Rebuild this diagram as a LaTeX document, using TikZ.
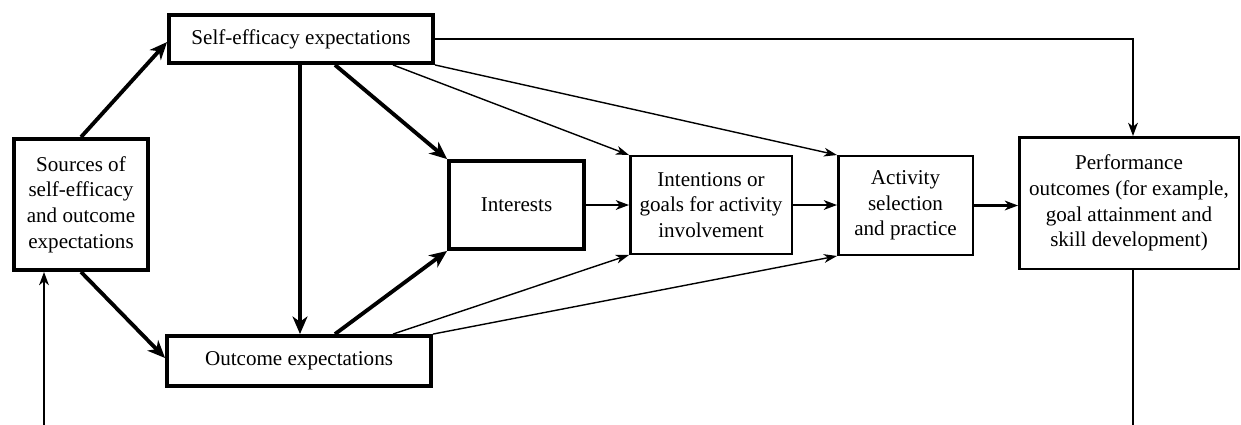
\documentclass[tikz,border=0pt]{standalone}
\usepackage{fontspec}
\setmainfont{Liberation Serif}
\usetikzlibrary{arrows.meta,calc}
\begin{document}
\begin{tikzpicture}[x=0.02cm,y=-0.02cm,
  box/.style={draw,rectangle,align=center,inner sep=1pt,font=\fontsize{12}{14.6}\selectfont},
  thickbox/.style={box,line width=2.2pt},
  thinbox/.style={box,line width=1.4pt},
  bigarr/.style={line width=2.2pt,-{Stealth[length=10pt,width=8.5pt,inset=3pt]}},
  midarr/.style={line width=1.3pt,-{Stealth[length=7.5pt,width=5.5pt,inset=2.2pt]}},
  thinarr/.style={line width=0.8pt,-{Stealth[length=7.5pt,width=5pt,inset=2.2pt]}}]
\useasboundingbox (0,0) rectangle (1241,424);
\node[thickbox,minimum width=2.68cm,minimum height=2.62cm] (src) at (81,204.5) {Sources of\\self-efficacy\\and outcome\\expectations};
\node[thickbox,minimum width=5.28cm,minimum height=0.96cm] (se) at (301,39) {Self-efficacy expectations};
\node[thickbox,minimum width=5.28cm,minimum height=1.0cm] (oc) at (299,361) {Outcome expectations};
\node[thickbox,minimum width=2.7cm,minimum height=1.76cm] (int) at (516.5,205) {Interests};
\node[thinbox,minimum width=3.23cm,minimum height=1.95cm] (intn) at (711,205) {Intentions or\\goals for activity\\involvement};
\node[thinbox,minimum width=2.69cm,minimum height=1.97cm] (act) at (905.5,205.5) {Activity\\selection\\and practice};
\node[thinbox,minimum width=4.39cm,minimum height=2.63cm] (perf) at (1129,203) {Performance\\outcomes (for example,\\goal attainment and\\skill development)};
% thick arrows
\draw[bigarr] (src.north) -- ([yshift=-0.06cm]se.west);
\draw[bigarr] (src.south) -- ([yshift=0.06cm]oc.west);
\draw[bigarr] ([xshift=-0.02cm]se.south) -- ([xshift=-0.02cm]se.south |- oc.north);
\draw[bigarr] ([xshift=0.68cm]se.south) -- (int.north west);
\draw[bigarr] ([xshift=0.72cm]oc.north) -- (int.south west);
% thin diagonal arrows
\draw[thinarr] ([xshift=1.84cm]se.south) -- (intn.north west);
\draw[thinarr] (se.south east) -- (act.north west);
\draw[thinarr] ([xshift=1.88cm]oc.north) -- (intn.south west);
\draw[thinarr] (oc.north east) -- (act.south west);
% horizontal arrows
\draw[midarr] (int.east) -- (intn.west);
\draw[midarr] (intn.east) -- (intn.east -| act.west);
\draw[midarr] (act.east) -- (act.east -| perf.west);
\draw[midarr] (se.east) -| ([xshift=0.08cm]perf.north);
% feedback loop (bottom part cut off by the frame)
\begin{scope}
\clip (0,0) rectangle (1241,424);
\draw[midarr] ([xshift=0.08cm]perf.south) -- ++(0,-3.6cm) -| ([xshift=-0.74cm]src.south);
\end{scope}
\end{tikzpicture}
\end{document}
